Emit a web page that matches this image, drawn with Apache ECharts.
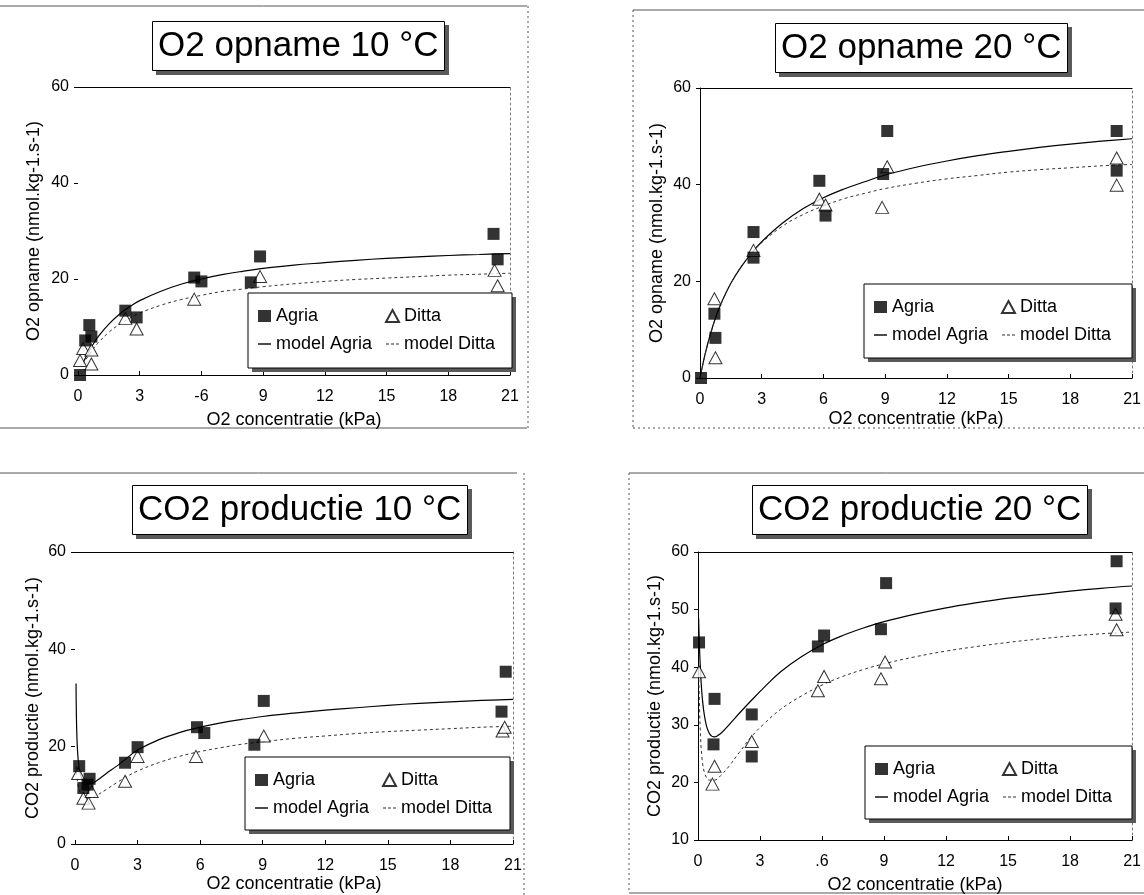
<!DOCTYPE html>
<html><head><meta charset="utf-8">
<script src="https://cdn.jsdelivr.net/npm/echarts@6/dist/echarts.min.js"></script>
<style>html,body{margin:0;padding:0;background:#fff}#c{width:1144px;height:895px}</style>
</head><body><div id="c"></div>
<script>
// ---------- data ----------
const xTickValues = [0, 3, 6, 9, 12, 15, 18, 21];
const xLabelsTL = ['0', '3', '-6', '9', '12', '15', '18', '21'];
const xLabelsTR = ['0', '3', '6', '9', '12', '15', '18', '21'];
const xLabelsBL = ['0', '3', '6', '9', '12', '15', '18', '21'];
const xLabelsBR = ['0', '3', '.6', '9', '12', '15', '18', '21'];
const panelTitles = ['O2 opname 10 °C', 'O2 opname 20 °C', 'CO2 productie 10 °C', 'CO2 productie 20 °C'];
const yAxisNames = ['O2 opname (nmol.kg-1.s-1)', 'O2 opname (nmol.kg-1.s-1)', 'CO2 productie (nmol.kg-1.s-1)', 'CO2 productie (nmol.kg-1.s-1)'];
const xAxisName = 'O2 concentratie (kPa)';
const seriesNames = ['Agria', 'Ditta', 'model Agria', 'model Ditta'];

// O2 opname 10 °C
const tlAgria = [[0.1,0],[0.35,7.2],[0.55,10.4],[0.65,8.0],[2.3,13.4],[2.85,12.0],[5.65,20.3],[6.0,19.5],[8.4,19.3],[8.85,24.7],[20.2,29.4],[20.4,24.1]];
const tlDitta = [[0.1,3.0],[0.25,5.5],[0.65,5.2],[0.65,2.3],[2.3,11.8],[2.85,9.6],[5.65,15.8],[8.85,20.5],[20.25,21.8],[20.4,18.6]];
const tlModelAgria = [[0.25,2.6],[0.5,4.7],[0.75,6.5],[1,8.1],[1.5,10.6],[2,12.6],[2.5,14.2],[3,15.5],[4,17.4],[5,18.9],[6,20.0],[7,20.9],[8,21.6],[9,22.2],[10.5,22.9],[12,23.4],[13.5,23.9],[15,24.3],[16.5,24.6],[18,24.9],[19.5,25.1],[21,25.3]];
const tlModelDitta = [[0.25,2.2],[0.5,4.0],[0.75,5.5],[1,6.8],[1.5,8.9],[2,10.5],[2.5,11.8],[3,12.9],[4,14.5],[5,15.7],[6,16.6],[7,17.4],[8,17.9],[9,18.4],[10.5,19.0],[12,19.5],[13.5,19.9],[15,20.2],[16.5,20.5],[18,20.8],[19.5,21.0],[21,21.2]];

// O2 opname 20 °C
const trAgria = [[0.05,0],[0.7,13.3],[0.75,8.3],[2.6,30.2],[2.6,24.9],[5.8,40.8],[6.1,33.6],[8.9,42.2],[9.1,51.1],[20.25,51.1],[20.25,42.9]];
const trDitta = [[0.7,16.4],[0.75,4.2],[2.6,26.4],[5.8,37.0],[6.1,35.8],[8.85,35.3],[9.1,43.7],[20.25,45.5],[20.25,39.9]];
const trModelAgria = [[0,0],[0.25,5.0],[0.5,9.0],[0.75,12.4],[1,15.2],[1.5,19.6],[2,23.0],[2.5,25.8],[3,28.2],[4,32.0],[5,35.0],[6,37.3],[7,39.1],[8,40.6],[9,42.0],[10.5,43.6],[12,44.9],[13.5,46.0],[15,46.9],[16.5,47.7],[18,48.4],[19.5,49.0],[21,49.5]];
const trModelDitta = [[0,0],[0.25,4.9],[0.5,8.9],[0.75,12.3],[1,15.1],[1.5,19.6],[2,23.1],[2.5,25.8],[3,28.0],[4,31.4],[5,33.8],[6,35.6],[7,37.1],[8,38.2],[9,39.2],[10.5,40.3],[12,41.2],[13.5,41.9],[15,42.6],[16.5,43.1],[18,43.5],[19.5,43.9],[21,44.2]];

// CO2 productie 10 °C
const blAgria = [[0.2,16.0],[0.4,11.5],[0.6,12.2],[0.7,13.4],[2.4,16.7],[3.0,19.9],[5.85,24.0],[6.2,22.8],[8.6,20.4],[9.05,29.4],[20.45,27.2],[20.65,35.4]];
const blDitta = [[0.15,14.5],[0.4,9.4],[0.65,8.4],[0.8,10.8],[2.4,12.9],[3.0,18.0],[5.8,18.0],[9.05,22.2],[20.5,23.2],[20.6,24.0]];
const blModelAgria = [[0.05,33],[0.1,21],[0.2,15.5],[0.35,13.3],[0.55,12.6],[0.8,12.5],[1.1,13.2],[1.5,14.5],[2,16.0],[2.5,17.7],[3,19.3],[4,21.4],[5,22.9],[6,24.0],[7,24.9],[8,25.6],[9,26.2],[10.5,26.9],[12,27.5],[13.5,28.0],[15,28.5],[16.5,28.9],[18,29.2],[19.5,29.5],[21,29.7]];
const blModelDitta = [[0.05,16],[0.15,12],[0.3,10.3],[0.5,9.6],[0.75,9.5],[1,9.9],[1.5,11.2],[2,12.6],[2.5,13.9],[3,15.0],[4,16.7],[5,18.0],[6,19.0],[7,19.8],[8,20.5],[9,21.0],[10.5,21.7],[12,22.2],[13.5,22.7],[15,23.1],[16.5,23.4],[18,23.7],[19.5,24.0],[21,24.2]];

// CO2 productie 20 °C
const brAgria = [[0.05,44.3],[0.8,34.5],[0.75,26.6],[2.6,31.8],[2.6,24.5],[5.8,43.6],[6.1,45.5],[8.85,46.6],[9.1,54.6],[20.25,58.4],[20.2,50.2]];
const brDitta = [[0.05,39.2],[0.8,22.8],[0.7,19.7],[2.6,27.1],[5.8,35.9],[6.1,38.4],[8.85,38.0],[9.05,40.9],[20.25,46.5],[20.2,49.2]];
const brModelAgria = [[0.03,48.5],[0.1,41],[0.2,35],[0.35,30.8],[0.55,28.5],[0.8,27.9],[1.1,28.5],[1.5,30.0],[2,32.0],[2.6,34.3],[3.2,36.5],[4,39.2],[5,41.8],[6,43.9],[7,45.5],[8,46.8],[9,47.9],[10.5,49.2],[12,50.3],[13.5,51.2],[15,52.0],[16.5,52.6],[18,53.2],[19.5,53.7],[21,54.1]];
const brModelDitta = [[0.03,40],[0.1,30],[0.2,24],[0.35,21.3],[0.55,20.4],[0.8,20.4],[1.1,21.2],[1.5,22.8],[2,25.2],[2.6,28.0],[3.2,30.2],[4,32.7],[5,35.0],[6,36.9],[7,38.4],[8,39.6],[9,40.6],[10.5,41.8],[12,42.8],[13.5,43.6],[15,44.3],[16.5,44.9],[18,45.4],[19.5,45.8],[21,46.1]];

const yRanges = [[0, 60, 20], [0, 60, 20], [0, 60, 20], [10, 60, 10]];

// ---------- layout ----------
const FONT = 'Liberation Sans';
const panels = [
  {grid:{left:78, top:87, width:432, height:288}, boxed:false, title:{left:152, top:21, w:293}, lbox:[248,293,264,75], xGap:36, yGap:35,
   labels:xLabelsTL, data:[tlAgria, tlDitta, tlModelAgria, tlModelDitta]},
  {grid:{left:700, top:88, width:435, height:290}, boxed:true, title:{left:775, top:23, w:293}, lbox:[864,284,268,74], xGap:32, yGap:34,
   labels:xLabelsTR, data:[trAgria, trDitta, trModelAgria, trModelDitta]},
  {grid:{left:75, top:552, width:438, height:292}, boxed:false, title:{left:132, top:485, w:336}, lbox:[245,757,265,73], xGap:30, yGap:33,
   labels:xLabelsBL, data:[blAgria, blDitta, blModelAgria, blModelDitta]},
  {grid:{left:698, top:552, width:437, height:288}, boxed:true, title:{left:752, top:485, w:336}, lbox:[865,746,267,73], xGap:36, yGap:34,
   labels:xLabelsBR, data:[brAgria, brDitta, brModelAgria, brModelDitta]}
];
const TITLE_H = 50, SH = 4, SHADOW = '#5a5a5a';

const ICON_SOLID = 'path://M0,0H12V1.3H0Z';
const ICON_DASH = 'path://M0,0H3V1.1H0ZM5,0H8V1.1H5ZM10,0H13V1.1H10Z';

const grids = [], xAxes = [], yAxes = [], series = [], titles = [], legends = [], elements = [];
const txt = {fontFamily: FONT, color: '#000'};

panels.forEach((p, i) => {
  grids.push(Object.assign({containLabel:false}, p.grid));
  xAxes.push({
    type:'value', gridIndex:i, min:0, max:21, interval:3, position:'bottom',
    name:xAxisName, nameLocation:'middle', nameGap:p.xGap,
    nameTextStyle:Object.assign({fontSize:18}, txt),
    axisLine:{show:true, onZero:false, lineStyle:{color:'#000', width:1}},
    axisTick:{show:true, inside:true, length:4, lineStyle:{color:'#000'}},
    axisLabel:Object.assign({margin:14, fontSize:16, formatter:(v)=>p.labels[xTickValues.indexOf(Math.round(v))]}, txt),
    splitLine:{show:false}
  });
  xAxes.push({
    type:'value', gridIndex:i, min:0, max:21, position:'top',
    axisLine:{show:true, onZero:false, lineStyle:{color:'#000', width:1}},
    axisTick:{show:false}, axisLabel:{show:false}, splitLine:{show:false}
  });
  const yr = yRanges[i];
  yAxes.push({
    type:'value', gridIndex:i, min:yr[0], max:yr[1], interval:yr[2], position:'left',
    name:yAxisNames[i], nameLocation:'middle', nameGap:p.yGap,
    nameTextStyle:Object.assign({fontSize:18}, txt),
    axisLine:{show:p.boxed, onZero:false, lineStyle:{color:'#000', width:1}},
    axisTick:{show:true, length:4, lineStyle:{color:'#000'}},
    axisLabel:Object.assign({margin:9, fontSize:16}, txt),
    splitLine:{show:false}
  });
  yAxes.push({
    type:'value', gridIndex:i, min:yr[0], max:yr[1], position:'right',
    axisLine:{show:true, onZero:false, lineStyle:{color:'#777', width:1, type:[2,3]}},
    axisTick:{show:false}, axisLabel:{show:false}, splitLine:{show:false}
  });
  const xi = 2*i, yi = 2*i;
  series.push({name:seriesNames[2], type:'line', xAxisIndex:xi, yAxisIndex:yi, data:p.data[2],
    symbol:'none', showSymbol:false, smooth:0.4, z:2,
    lineStyle:{color:'#000', width:1.2}, itemStyle:{color:'#000'}});
  series.push({name:seriesNames[3], type:'line', xAxisIndex:xi, yAxisIndex:yi, data:p.data[3],
    symbol:'none', showSymbol:false, smooth:0.4, z:2,
    lineStyle:{color:'#333', width:1, type:[3,3]}, itemStyle:{color:'#333'}});
  series.push({name:seriesNames[1], type:'scatter', xAxisIndex:xi, yAxisIndex:yi, data:p.data[1],
    symbol:'triangle', symbolSize:[13,12], z:3,
    itemStyle:{color:'#fff', borderColor:'#000', borderWidth:1}});
  series.push({name:seriesNames[0], type:'scatter', xAxisIndex:xi, yAxisIndex:yi, data:p.data[0],
    symbol:'rect', symbolSize:12, z:4, itemStyle:{color:'#000'}});

  titles.push({
    text:panelTitles[i], left:p.title.left, top:p.title.top, padding:[5,6], z:8,
    backgroundColor:'#fff', borderColor:'#000', borderWidth:1,
    textStyle:{fontFamily:FONT, fontSize:35, fontWeight:'normal', color:'#000', lineHeight:40}
  });
  // title drop shadow
  elements.push({type:'rect', z:1, silent:true,
    shape:{x:p.title.left+SH, y:p.title.top+SH, width:p.title.w, height:TITLE_H},
    style:{fill:SHADOW}});

  const b = p.lbox;
  elements.push({type:'rect', z:4, silent:true, shape:{x:b[0]+SH, y:b[1]+SH, width:b[2], height:b[3]},
    style:{fill:SHADOW}});
  elements.push({type:'rect', z:5, silent:true, shape:{x:b[0], y:b[1], width:b[2], height:b[3]},
    style:{fill:'#fff', stroke:'#000', lineWidth:1}});
  const lg = {orient:'vertical', padding:0, itemGap:10, itemWidth:13, itemHeight:12, z:10, selectedMode:false,
    textStyle:Object.assign({fontSize:18}, txt)};
  legends.push(Object.assign({}, lg, {left:b[0]+10, top:b[1]+14,
    data:[{name:seriesNames[0], icon:'rect'}, {name:seriesNames[2], icon:ICON_SOLID}]}));
  legends.push(Object.assign({}, lg, {left:b[0]+137, top:b[1]+14,
    data:[{name:seriesNames[1]}, {name:seriesNames[3], icon:ICON_DASH}]}));
});

// scan frame lines around each panel
const frameLines = [
  [0,6,527,6,false],[528,6,528,428,true],[0,428,527,428,false],
  [633,10,1144,10,false],[633,10,633,428,true],[633,428,1144,428,true],
  [0,473,517,473,false],[524,473,524,895,true],
  [629,473,1144,473,false],[629,473,629,893,true],[629,893,1144,893,false]
];
frameLines.forEach(l => elements.push({type:'line', z:0, silent:true,
  shape:{x1:l[0], y1:l[1], x2:l[2], y2:l[3]},
  style:{stroke:'#555', lineWidth:1, lineDash:l[4] ? [2,3] : null}}));

const chart = echarts.init(document.getElementById('c'), null, {renderer:'canvas'});
chart.setOption({
  animation:false, backgroundColor:'#fff',
  title:titles, grid:grids, xAxis:xAxes, yAxis:yAxes, legend:legends, series:series,
  graphic:{elements:elements}
});
</script></body></html>
